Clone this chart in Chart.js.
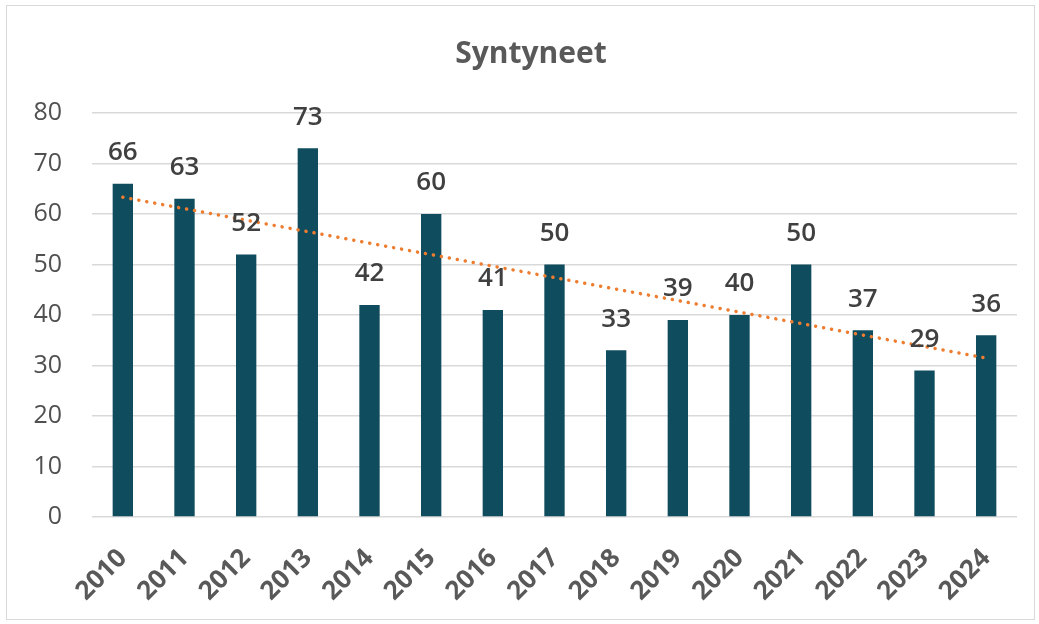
<!DOCTYPE html>
<html>
<head>
<meta charset="utf-8">
<script src="https://cdn.jsdelivr.net/npm/chart.js@4/dist/chart.umd.min.js"></script>
<style>
  html, body { margin: 0; padding: 0; background: #fff; }
  #wrap { position: relative; width: 1039px; height: 624px; }
  #frame { position: absolute; left: 6px; top: 5px; right: 4px; bottom: 4px; border: 1.5px solid #d9d9d9; }
  canvas { position: absolute; left: 0; top: 0; }
</style>
</head>
<body>
<div id="wrap">
  <div id="frame"></div>
  <canvas id="chart" width="1039" height="624"></canvas>
</div>
<script>
const years = ['2010', '2011', '2012', '2013', '2014', '2015', '2016', '2017', '2018', '2019', '2020', '2021', '2022', '2023', '2024'];
const births = [66, 63, 52, 73, 42, 60, 41, 50, 33, 39, 40, 50, 37, 29, 36];
const yTicks = [0, 10, 20, 30, 40, 50, 60, 70, 80];
const chartTitle = 'Syntyneet';

// linear trendline (least squares), like Excel's
function linearTrend(values) {
    const n = values.length;
    const mx = (n - 1) / 2;
    const my = values.reduce((a, b) => a + b, 0) / n;
    let sxy = 0, sxx = 0;
    values.forEach((v, i) => { sxy += (i - mx) * (v - my); sxx += (i - mx) * (i - mx); });
    const slope = sxy / sxx;
    return values.map((v, i) => my + slope * (i - mx));
}
const trend = linearTrend(births);

const FONT = "'Open Sans', 'Noto Sans', sans-serif";

const labelsPlugin = {
    id: 'labelsPlugin',
    afterDatasetsDraw(chart) {
        const ctx = chart.ctx;
        const meta = chart.getDatasetMeta(1);
        ctx.save();
        ctx.fillStyle = '#404040';
        ctx.font = `600 26px ${FONT}`;
        ctx.textAlign = 'center';
        ctx.textBaseline = 'middle';
        meta.data.forEach((bar, i) => {
            ctx.fillText(String(births[i]), bar.x, bar.y - 31);
        });
        // title
        ctx.fillStyle = '#595959';
        ctx.font = `bold 30px ${FONT}`;
        ctx.fillText(chartTitle, 531, 54);
        ctx.restore();
    }
};

new Chart(document.getElementById('chart').getContext('2d'), {
    type: 'bar',
    data: {
        labels: years,
        datasets: [
            {
                type: 'line',
                data: trend,
                borderColor: '#ED7D31',
                borderWidth: 3.5,
                borderDash: [0.1, 8],
                borderCapStyle: 'round',
                pointRadius: 0,
                fill: false,
                order: 0
            },
            {
                data: births,
                backgroundColor: '#0F4C5E',
                barPercentage: 0.33,
                categoryPercentage: 1,
                order: 1
            }
        ]
    },
    options: {
        responsive: false,
        animation: false,
        layout: { padding: { top: 113, right: 22, bottom: 0, left: 0 } },
        plugins: {
            legend: { display: false },
            tooltip: { enabled: false },
            title: { display: false }
        },
        scales: {
            x: {
                grid: { display: false },
                border: { display: false },
                ticks: {
                    color: '#595959',
                    font: { family: FONT, size: 26, weight: 'bold' },
                    maxRotation: 45,
                    minRotation: 45,
                    padding: 18
                },
                afterFit(scale) { scale.height = 107; }
            },
            y: {
                min: 0,
                max: 80,
                afterBuildTicks(scale) { scale.ticks = yTicks.map(v => ({ value: v })); },
                grid: { color: '#d9d9d9', lineWidth: 1.5, drawTicks: false },
                border: { display: false },
                ticks: {
                    color: '#505050',
                    font: { family: FONT, size: 25 },
                    padding: 30
                },
                afterFit(scale) { scale.width = 92; }
            }
        }
    },
    plugins: [labelsPlugin]
});
</script>
</body>
</html>
